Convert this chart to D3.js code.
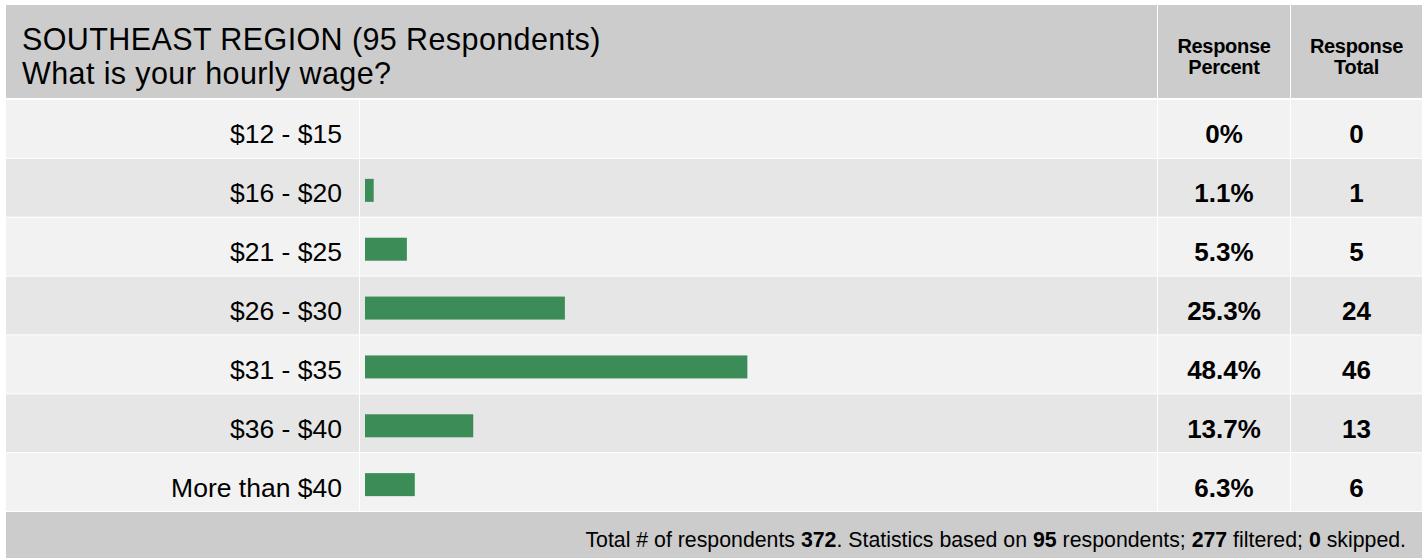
<!DOCTYPE html>
<html>
<head>
<meta charset="utf-8">
<script src="https://cdn.jsdelivr.net/npm/d3@7"></script>
<style>
  html, body { margin: 0; padding: 0; background: #ffffff; }
  svg { display: block; font-family: "Liberation Sans", Arial, sans-serif; }
</style>
</head>
<body>
<svg id="chart" width="1427" height="558"></svg>
<script>
// ---- data ----
const titleLines = ["SOUTHEAST REGION (95 Respondents)", "What is your hourly wage?"];
const categories = ["$12 - $15", "$16 - $20", "$21 - $25", "$26 - $30", "$31 - $35", "$36 - $40", "More than $40"];
const percents = [0, 1.1, 5.3, 25.3, 48.4, 13.7, 6.3];
const totals = [0, 1, 5, 24, 46, 13, 6];
const columnHeaders = [["Response", "Percent"], ["Response", "Total"]];
const footerParts = [
  ["Total # of respondents ", false], ["372", true], [". Statistics based on ", false],
  ["95", true], [" respondents; ", false], ["277", true], [" filtered; ", false],
  ["0", true], [" skipped.", false]
];

// ---- layout ----
const svg = d3.select("#chart");
const L = 6, R = 1422, T = 5;
const headerBottom = 99, rowsBottom = 511, B = 558;
const colLabelEnd = 359, colBarEnd = 1157, colPctEnd = 1290;
const pad = 1;

const y = d3.scaleBand().domain(categories).range([headerBottom, rowsBottom]).paddingInner(0);
const x = d3.scaleLinear().domain([0, 100]).range([0, 790]);
const barX0 = 365;

// header background
svg.append("rect").attr("x", L).attr("y", T).attr("width", colBarEnd - L).attr("height", headerBottom - T - pad).attr("fill", "#cccccc");
svg.append("rect").attr("x", colBarEnd + pad).attr("y", T).attr("width", colPctEnd - colBarEnd - pad).attr("height", headerBottom - T - pad).attr("fill", "#cccccc");
svg.append("rect").attr("x", colPctEnd + pad).attr("y", T).attr("width", R - colPctEnd - pad).attr("height", headerBottom - T - pad).attr("fill", "#cccccc");

// title
titleLines.forEach((t, i) => {
  svg.append("text").attr("x", 22).attr("y", 50 + i * 34).attr("fill", "#000")
    .style("font-size", "30.5px").style("letter-spacing", "0.4px").text(t);
});

// column headers
const colCenters = [(colBarEnd + colPctEnd) / 2 + 0.5, (colPctEnd + R) / 2 + 0.5];
columnHeaders.forEach((lines, ci) => {
  lines.forEach((ln, li) => {
    svg.append("text").attr("x", colCenters[ci]).attr("y", 53 + li * 20.5)
      .attr("text-anchor", "middle").attr("font-weight", "bold")
      .style("font-size", "20px").style("letter-spacing", "-0.3px").attr("fill", "#000").text(ln);
  });
});

// rows
const rows = svg.selectAll("g.row").data(categories).join("g").attr("class", "row")
  .attr("transform", d => `translate(0,${y(d)})`);
const rh = y.bandwidth();
const rowFill = (d, i) => (i % 2 === 0 ? "#f2f2f2" : "#e6e6e6");

rows.append("rect").attr("x", L).attr("y", pad).attr("width", colLabelEnd - L).attr("height", rh - pad).attr("fill", rowFill);
rows.append("rect").attr("x", colLabelEnd + pad).attr("y", pad).attr("width", colBarEnd - colLabelEnd - pad).attr("height", rh - pad).attr("fill", rowFill);
rows.append("rect").attr("x", colBarEnd + pad).attr("y", pad).attr("width", colPctEnd - colBarEnd - pad).attr("height", rh - pad).attr("fill", rowFill);
rows.append("rect").attr("x", colPctEnd + pad).attr("y", pad).attr("width", R - colPctEnd - pad).attr("height", rh - pad).attr("fill", rowFill);

rows.append("text").attr("x", 342).attr("y", rh / 2 + 15).attr("text-anchor", "end")
  .style("font-size", "26.5px").attr("fill", "#000").text(d => d);

rows.append("rect").attr("x", barX0).attr("y", 21).attr("height", 23)
  .attr("width", (d, i) => x(percents[i])).attr("fill", "#3c8c58");

rows.append("text").attr("x", colCenters[0]).attr("y", rh / 2 + 15).attr("text-anchor", "middle")
  .attr("font-weight", "bold").style("font-size", "26px").attr("fill", "#000")
  .text((d, i) => percents[i] + "%");
rows.append("text").attr("x", colCenters[1]).attr("y", rh / 2 + 15).attr("text-anchor", "middle")
  .attr("font-weight", "bold").style("font-size", "26px").attr("fill", "#000")
  .text((d, i) => totals[i]);

// footer
svg.append("rect").attr("x", L).attr("y", rowsBottom + pad).attr("width", R - L).attr("height", B - rowsBottom - pad).attr("fill", "#cccccc");
const ft = svg.append("text").attr("x", 1406).attr("y", 547).attr("text-anchor", "end")
  .style("font-size", "21.3px").attr("fill", "#000");
footerParts.forEach(([t, b]) => {
  ft.append("tspan").attr("font-weight", b ? "bold" : "normal").text(t);
});
</script>
</body>
</html>
